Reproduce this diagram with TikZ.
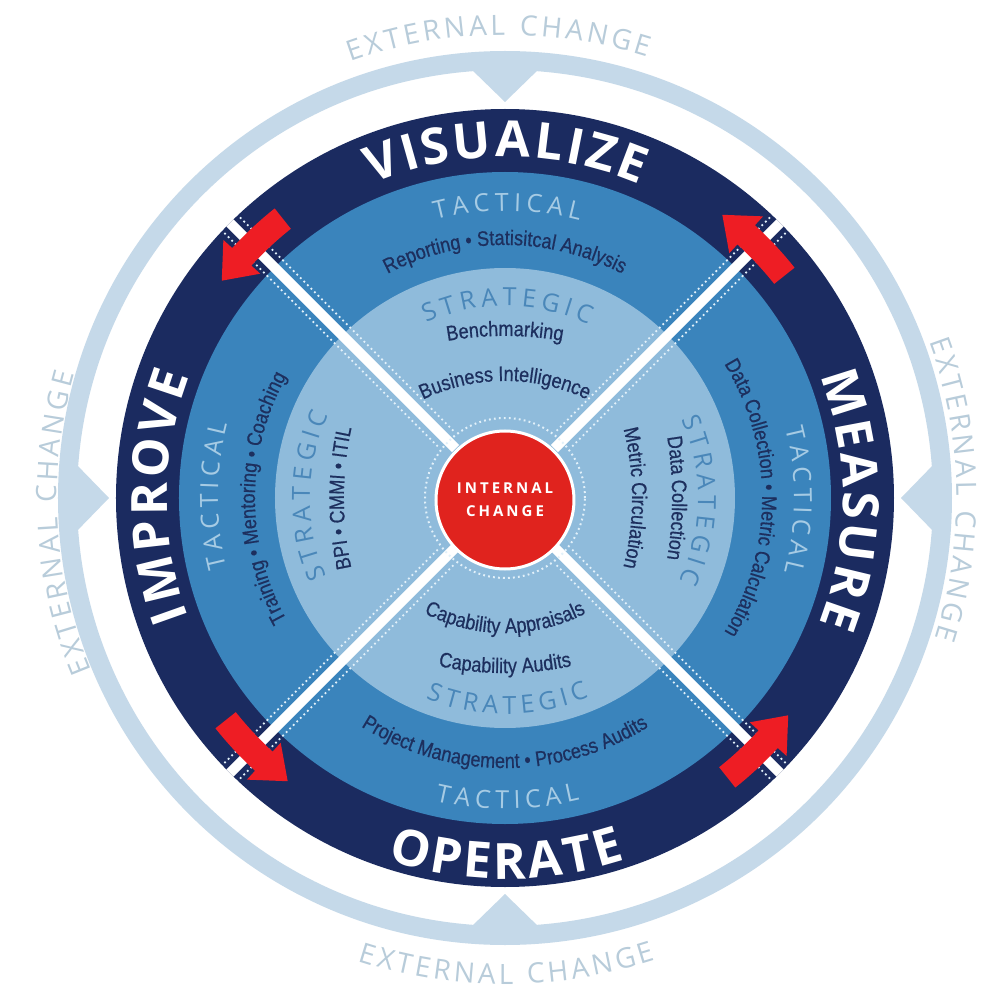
\documentclass[tikz,border=0pt]{standalone}
\usepackage{fontspec}
\usetikzlibrary{decorations.text}
\newfontfamily\hdf{Open Sans}
\newfontfamily\itf{Liberation Sans}[FakeStretch=0.86,FakeBold=0.6]
\definecolor{ringc}{HTML}{C5D9E9}
\definecolor{extc}{HTML}{B8CCDA}
\definecolor{navy}{HTML}{1B2B60}
\definecolor{tacc}{HTML}{3A84BC}
\definecolor{strc}{HTML}{8FBBDB}
\definecolor{taclbl}{HTML}{A6CBE4}
\definecolor{strlbl}{HTML}{4A87B9}
\definecolor{itemc}{HTML}{1D2F5E}
\definecolor{redc}{HTML}{E0231E}
\definecolor{arrc}{HTML}{EE1D24}
\definecolor{dotc}{HTML}{E2F1FA}
\newcommand\BigF{\hdf\bfseries\fontsize{50}{52}\selectfont\color{white}\kern3pt\relax}
\newcommand\TacF{\hdf\fontsize{25}{27}\selectfont\color{taclbl}\kern5pt\relax}
\newcommand\StrF{\hdf\fontsize{25}{27}\selectfont\color{strlbl}\kern5pt\relax}
\newcommand\ItF{\itf\fontsize{21}{23}\selectfont\color{itemc}}
\newcommand\ExtF{\hdf\fontsize{28}{30}\selectfont\color{extc}\kern3.5pt\relax}
% clockwise text (tops outward): angle, baseline distance, radius, format, text
\newcommand\cwtxt[5]{\path[shift={({#1}:{#2-#3})},decorate,decoration={text along path,text align=center,text={|#4|#5}}] ({#1+75}:#3) arc[start angle={#1+75},end angle={#1-75},radius=#3];}
% counter-clockwise text (tops inward)
\newcommand\ccwtxt[5]{\path[shift={({#1}:{#2-#3})},decorate,decoration={text along path,text align=center,text={|#4|#5}}] ({#1-75}:#3) arc[start angle={#1-75},end angle={#1+75},radius=#3];}
\tikzset{
  stripe/.style={white, line width=10pt},
  dotline/.style={dotc, line width=1.8pt, dash pattern=on 1.8pt off 3.2pt},
  redarrow/.style={fill=arrc},
  core/.style={circle, fill=redc, draw=white, line width=3pt, minimum size=138pt, inner sep=0pt,
    font=\hdf\bfseries\fontsize{15}{23}\selectfont\addfontfeature{LetterSpace=20}, text=white, align=center}
}
\begin{document}
\begin{tikzpicture}[x=1pt,y=1pt]
\useasboundingbox (-505,-504) rectangle (489,498);
\fill[white] (-505,-504) rectangle (489,498);
% outer ring with pointers
\fill[ringc, even odd rule] (0,0) circle[radius=447] (0,0) circle[radius=428];
\foreach \t in {0,90,180,270}{
  \fill[ringc] ({\t-4.6}:431) -- (\t:396) -- ({\t+4.6}:431) -- cycle;
}
% bands
\fill[navy] (0,0) circle[radius=389];
\fill[tacc] (0,0) circle[radius=326];
\fill[strc] (0,0) circle[radius=230];
% diagonal stripes
\foreach \a in {45,135,225,315}{
  \draw[stripe] (\a:70) -- (\a:389);
  \draw[dotline, shift={({\a+90}:11)}] (\a:84) -- (\a:389);
  \draw[dotline, shift={({\a-90}:11)}] (\a:84) -- (\a:389);
}
% red arrows (counter-clockwise flow)
\foreach \d in {45,135,225,315}{
  \pgfmathsetmacro\tz{\d-6.5}
  \pgfmathsetmacro\tb{\d+2.5}
  \pgfmathsetmacro\tt{\d+7.5}
  \fill[redarrow] (\tz:344) arc[start angle=\tz, end angle=\tb, radius=344] -- (\tb:332) -- (\tt:357)
     -- (\tb:382) -- (\tb:370) arc[start angle=\tb, end angle=\tz, radius=370] -- cycle;
}
% centre
\draw[dotline, line width=2pt] (0,0) circle[radius=80];
\node[core] (ic) at (0,-2) {INTERNAL\\CHANGE};
% big labels
\cwtxt{90}{341}{341}{\BigF}{VISUALIZE}
\cwtxt{180}{338}{338}{\BigF}{IMPROVE}
\cwtxt{0}{338}{338}{\BigF}{MEASURE}
\ccwtxt{270}{381}{381}{\BigF}{OPERATE}
% tactical labels
\cwtxt{90}{287}{287}{\TacF}{TACTICAL}
\cwtxt{180}{287}{287}{\TacF}{TACTICAL}
\cwtxt{0}{289}{289}{\TacF}{TACTICAL}
\ccwtxt{270}{311}{311}{\TacF}{TACTICAL}
% strategic labels
\cwtxt{90}{192}{192}{\StrF}{STRATEGIC}
\cwtxt{180}{195}{195}{\StrF}{STRATEGIC}
\cwtxt{0}{193}{193}{\StrF}{STRATEGIC}
\ccwtxt{270}{216}{216}{\StrF}{STRATEGIC}
% tactical items
\cwtxt{90}{253}{253}{\ItF}{Reporting • Statisitcal Analysis}
\cwtxt{180}{250}{250}{\ItF}{Training • Mentoring • Coaching}
\cwtxt{0}{257}{257}{\ItF}{Data Collection • Metric Calculation}
\ccwtxt{270}{270}{270}{\ItF}{Project Management • Process Audits}
% strategic items
\cwtxt{90}{162}{330}{\ItF}{Benchmarking}
\cwtxt{90}{117}{190}{\ItF}{Business Intelligence}
\cwtxt{180}{161}{330}{\ItF}{BPI • CMMI • ITIL}
\cwtxt{0}{167}{380}{\ItF}{Data Collection}
\cwtxt{0}{127}{280}{\ItF}{Metric Circulation}
\ccwtxt{270}{135}{175}{\ItF}{Capability Appraisals}
\ccwtxt{270}{175}{320}{\ItF}{Capability Audits}
% external change
\cwtxt{91}{463}{463}{\ExtF}{EXTERNAL CHANGE}
\cwtxt{183.5}{448}{448}{\ExtF}{EXTERNAL CHANGE}
\cwtxt{1.3}{452}{452}{\ExtF}{EXTERNAL CHANGE}
\ccwtxt{270}{486}{486}{\ExtF}{EXTERNAL CHANGE}
\end{tikzpicture}
\end{document}
